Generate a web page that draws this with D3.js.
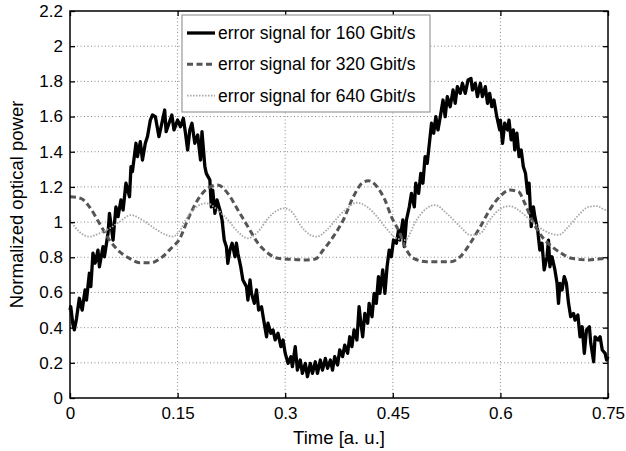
<!DOCTYPE html>
<html>
<head>
<meta charset="utf-8">
<script src="https://cdn.jsdelivr.net/npm/d3@7/dist/d3.min.js"></script>
<style>
  body { margin: 0; background: #fff; }
  svg { display: block; font-family: "Liberation Sans", Arial, sans-serif; }
</style>
</head>
<body>
<div id="chart"></div>
<script>
// time in a.u., normalized optical power
const signal160 = [[0,0.50],[0.001,0.52],[0.004,0.42],[0.006,0.387],[0.009,0.45],[0.013,0.567],[0.017,0.50],[0.021,0.614],[0.023,0.557],[0.027,0.709],[0.029,0.633],[0.032,0.823],[0.035,0.766],[0.039,0.841],[0.041,0.746],[0.046,0.860],[0.048,0.803],[0.053,0.936],[0.055,1.050],[0.060,0.898],[0.064,1.087],[0.067,1.031],[0.071,1.126],[0.074,1.069],[0.078,1.221],[0.083,1.144],[0.085,1.315],[0.087,1.287],[0.092,1.448],[0.094,1.372],[0.098,1.457],[0.101,1.353],[0.105,1.448],[0.108,1.486],[0.112,1.580],[0.115,1.609],[0.119,1.599],[0.124,1.486],[0.127,1.542],[0.132,1.637],[0.134,1.514],[0.138,1.562],[0.142,1.609],[0.145,1.524],[0.150,1.580],[0.154,1.542],[0.158,1.590],[0.161,1.505],[0.164,1.410],[0.167,1.524],[0.170,1.562],[0.174,1.448],[0.178,1.495],[0.182,1.353],[0.184,1.514],[0.188,1.315],[0.190,1.277],[0.195,1.239],[0.197,1.087],[0.199,1.182],[0.202,1.050],[0.205,1.126],[0.209,1.069],[0.212,1.012],[0.215,0.898],[0.218,0.860],[0.220,0.766],[0.223,0.841],[0.226,0.880],[0.230,0.803],[0.232,0.880],[0.234,0.823],[0.238,0.746],[0.241,0.671],[0.246,0.633],[0.248,0.557],[0.251,0.671],[0.253,0.595],[0.257,0.538],[0.260,0.614],[0.263,0.500],[0.267,0.519],[0.270,0.443],[0.274,0.348],[0.276,0.425],[0.280,0.368],[0.283,0.387],[0.286,0.330],[0.290,0.368],[0.294,0.292],[0.297,0.330],[0.300,0.254],[0.304,0.197],[0.308,0.235],[0.310,0.178],[0.314,0.292],[0.317,0.159],[0.321,0.216],[0.324,0.140],[0.328,0.197],[0.331,0.121],[0.335,0.197],[0.338,0.140],[0.342,0.206],[0.345,0.140],[0.349,0.216],[0.352,0.159],[0.356,0.225],[0.359,0.169],[0.363,0.216],[0.366,0.159],[0.369,0.235],[0.373,0.188],[0.376,0.273],[0.380,0.235],[0.383,0.301],[0.387,0.254],[0.390,0.348],[0.393,0.292],[0.396,0.387],[0.400,0.330],[0.403,0.519],[0.405,0.443],[0.408,0.348],[0.411,0.481],[0.415,0.425],[0.417,0.538],[0.421,0.462],[0.424,0.595],[0.427,0.538],[0.430,0.690],[0.432,0.595],[0.436,0.728],[0.439,0.595],[0.442,0.746],[0.445,0.841],[0.448,0.803],[0.451,0.898],[0.455,0.880],[0.458,0.955],[0.460,0.898],[0.464,1.012],[0.466,0.860],[0.469,1.012],[0.473,1.087],[0.476,1.163],[0.480,1.087],[0.482,1.221],[0.486,1.163],[0.489,1.277],[0.492,1.221],[0.495,1.372],[0.498,1.334],[0.502,1.486],[0.504,1.562],[0.507,1.505],[0.510,1.599],[0.513,1.524],[0.517,1.618],[0.520,1.694],[0.523,1.599],[0.526,1.713],[0.530,1.656],[0.534,1.751],[0.537,1.675],[0.540,1.770],[0.544,1.732],[0.547,1.789],[0.551,1.732],[0.555,1.808],[0.559,1.817],[0.561,1.751],[0.565,1.789],[0.568,1.713],[0.572,1.789],[0.575,1.713],[0.579,1.770],[0.582,1.675],[0.585,1.732],[0.588,1.656],[0.591,1.694],[0.595,1.599],[0.599,1.524],[0.600,1.580],[0.603,1.448],[0.606,1.562],[0.610,1.524],[0.612,1.580],[0.615,1.467],[0.618,1.524],[0.620,1.410],[0.623,1.505],[0.626,1.372],[0.629,1.410],[0.632,1.315],[0.635,1.277],[0.638,1.163],[0.640,1.221],[0.643,0.974],[0.646,1.087],[0.648,1.031],[0.652,0.955],[0.655,0.841],[0.658,0.880],[0.661,0.728],[0.665,0.803],[0.667,0.898],[0.669,0.746],[0.672,0.803],[0.676,0.728],[0.679,0.652],[0.681,0.538],[0.683,0.652],[0.686,0.614],[0.689,0.690],[0.692,0.652],[0.695,0.538],[0.698,0.462],[0.702,0.481],[0.704,0.443],[0.708,0.472],[0.711,0.348],[0.714,0.405],[0.717,0.254],[0.720,0.387],[0.724,0.405],[0.726,0.311],[0.730,0.206],[0.732,0.348],[0.736,0.330],[0.739,0.348],[0.742,0.273],[0.746,0.254],[0.748,0.216],[0.750,0.235]];

const signal320 = [[0,1.144],[0.015,1.135],[0.027,1.087],[0.041,0.993],[0.055,0.898],[0.069,0.832],[0.083,0.794],[0.097,0.769],[0.113,0.769],[0.129,0.803],[0.143,0.86],[0.152,0.898],[0.164,1.012],[0.178,1.126],[0.192,1.192],[0.206,1.211],[0.22,1.163],[0.234,1.069],[0.248,0.974],[0.262,0.88],[0.276,0.823],[0.29,0.794],[0.309,0.788],[0.325,0.785],[0.342,0.79],[0.353,0.841],[0.367,0.917],[0.381,1.012],[0.395,1.144],[0.407,1.221],[0.416,1.235],[0.428,1.201],[0.439,1.126],[0.448,1.031],[0.46,0.936],[0.467,0.86],[0.479,0.794],[0.497,0.775],[0.53,0.775],[0.544,0.803],[0.558,0.88],[0.572,0.974],[0.585,1.069],[0.599,1.144],[0.613,1.182],[0.625,1.173],[0.634,1.107],[0.644,1.012],[0.658,0.917],[0.672,0.86],[0.685,0.823],[0.699,0.794],[0.723,0.785],[0.746,0.794],[0.75,0.795]];

const signal640 = [[0,1.01],[0.013,0.945],[0.027,0.917],[0.041,0.936],[0.055,0.964],[0.069,1.002],[0.085,1.040],[0.101,1.012],[0.118,0.964],[0.134,0.927],[0.143,0.917],[0.152,0.945],[0.164,1.031],[0.178,1.091],[0.19,1.107],[0.206,1.069],[0.22,1.012],[0.234,0.945],[0.248,0.908],[0.262,0.945],[0.276,1.021],[0.29,1.069],[0.299,1.078],[0.311,1.050],[0.321,0.983],[0.335,0.927],[0.344,0.917],[0.358,0.955],[0.372,1.021],[0.386,1.078],[0.4,1.110],[0.414,1.087],[0.428,1.031],[0.441,0.964],[0.455,0.908],[0.467,0.898],[0.483,1.012],[0.497,1.078],[0.509,1.097],[0.525,1.050],[0.544,0.974],[0.558,0.927],[0.572,0.936],[0.585,1.012],[0.599,1.073],[0.613,1.091],[0.625,1.069],[0.639,1.021],[0.653,0.974],[0.667,0.940],[0.681,0.927],[0.695,0.974],[0.709,1.040],[0.723,1.087],[0.734,1.091],[0.746,1.069],[0.75,1.065]];

const xTicks = [0, 0.15, 0.3, 0.45, 0.6, 0.75];
const yTicks = [0, 0.2, 0.4, 0.6, 0.8, 1, 1.2, 1.4, 1.6, 1.8, 2, 2.2];
const legendLabels = ['error signal for 160 Gbit/s', 'error signal for 320 Gbit/s', 'error signal for 640 Gbit/s'];

const width = 626, height = 451;
const margin = {top: 11, right: 18, bottom: 53, left: 70};
const w = width - margin.left - margin.right;
const h = height - margin.top - margin.bottom;

const svg = d3.select('#chart').append('svg')
  .attr('width', width).attr('height', height);
const g = svg.append('g').attr('transform', 'translate(' + margin.left + ',' + margin.top + ')');

const x = d3.scaleLinear().domain([0, 0.75]).range([0, w]);
const y = d3.scaleLinear().domain([0, 2.2]).range([h, 0]);

// dotted grid
g.append('g').selectAll('line')
  .data(xTicks.slice(1, -1)).enter().append('line')
  .attr('x1', d => x(d)).attr('x2', d => x(d))
  .attr('y1', 0).attr('y2', h)
  .attr('stroke', '#8a8a8a').attr('stroke-width', 1).attr('stroke-dasharray', '1,2.5');
g.append('g').selectAll('line')
  .data(yTicks.slice(1, -1)).enter().append('line')
  .attr('x1', 0).attr('x2', w)
  .attr('y1', d => y(d)).attr('y2', d => y(d))
  .attr('stroke', '#8a8a8a').attr('stroke-width', 1).attr('stroke-dasharray', '1,2.5');

// curves
const line = d3.line().x(d => x(d[0])).y(d => y(d[1]));
const smooth = d3.line().curve(d3.curveMonotoneX).x(d => x(d[0])).y(d => y(d[1]));

const styles = [
  {stroke: '#000', width: 3.3, dash: null},
  {stroke: '#555', width: 3, dash: '6,3.5'},
  {stroke: '#a8a8a8', width: 1.8, dash: '1.5,1.5'}
];

g.append('path').attr('d', line(signal160))
  .attr('fill', 'none').attr('stroke', styles[0].stroke).attr('stroke-width', styles[0].width)
  .attr('stroke-linejoin', 'round');
g.append('path').attr('d', smooth(signal320))
  .attr('fill', 'none').attr('stroke', styles[1].stroke).attr('stroke-width', styles[1].width)
  .attr('stroke-dasharray', styles[1].dash);
g.append('path').attr('d', smooth(signal640))
  .attr('fill', 'none').attr('stroke', styles[2].stroke).attr('stroke-width', styles[2].width)
  .attr('stroke-dasharray', styles[2].dash);

// axes, matlab style with inner ticks on all four sides
const fmt = d => String(d);
g.append('g').attr('transform', 'translate(0,' + h + ')')
  .call(d3.axisBottom(x).tickValues(xTicks).tickFormat(fmt).tickSizeInner(-5).tickSizeOuter(0).tickPadding(9));
g.append('g')
  .call(d3.axisLeft(y).tickValues(yTicks).tickFormat(fmt).tickSizeInner(-5).tickSizeOuter(0).tickPadding(7));
g.append('g')
  .call(d3.axisTop(x).tickValues(xTicks).tickFormat('').tickSizeInner(-5).tickSizeOuter(0));
g.append('g').attr('transform', 'translate(' + w + ',0)')
  .call(d3.axisRight(y).tickValues(yTicks).tickFormat('').tickSizeInner(-5).tickSizeOuter(0));

g.selectAll('.domain').remove();
g.selectAll('.tick line').attr('stroke', '#000').attr('stroke-width', 1.3);
g.selectAll('.tick text').attr('font-size', 17).attr('fill', '#000')
  .attr('font-family', '"Liberation Sans", Arial, sans-serif');

g.append('rect').attr('x', 0).attr('y', 0).attr('width', w).attr('height', h)
  .attr('fill', 'none').attr('stroke', '#000').attr('stroke-width', 1.5);

// axis labels
svg.append('text')
  .attr('x', margin.left + w / 2).attr('y', 444)
  .attr('text-anchor', 'middle').attr('font-size', 18.5)
  .text('Time [a. u.]');
svg.append('text')
  .attr('transform', 'translate(23,' + (margin.top + h / 2) + ') rotate(-90)')
  .attr('text-anchor', 'middle').attr('font-size', 18.5)
  .text('Normalized optical power');

// legend
const legend = svg.append('g').attr('transform', 'translate(182,15)');
legend.append('rect').attr('width', 248).attr('height', 97)
  .attr('fill', '#fff').attr('stroke', '#999').attr('stroke-width', 1.2);

const rows = legend.selectAll('.row')
  .data(legendLabels).enter().append('g')
  .attr('class', 'row')
  .attr('transform', (d, i) => 'translate(0,' + (18 + i * 31.3) + ')');

rows.append('line')
  .attr('x1', 5).attr('x2', 33).attr('y1', 0).attr('y2', 0)
  .attr('stroke', (d, i) => styles[i].stroke)
  .attr('stroke-width', (d, i) => styles[i].width)
  .attr('stroke-dasharray', (d, i) => styles[i].dash);

rows.append('text')
  .attr('x', 36).attr('y', 6)
  .attr('font-size', 17.5)
  .text(d => d);
</script>
</body>
</html>
